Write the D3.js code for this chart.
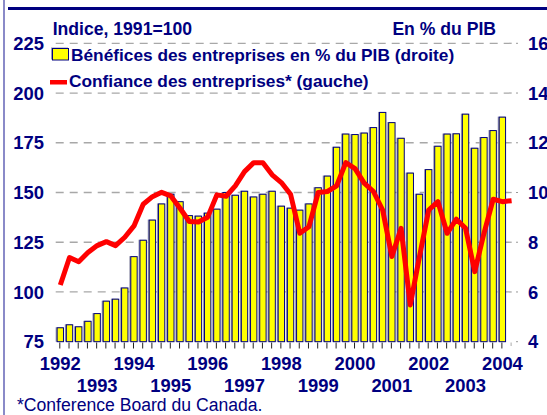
<!DOCTYPE html>
<html>
<head>
<meta charset="utf-8">
<script src="https://cdn.jsdelivr.net/npm/d3@7"></script>
<style>
  html, body { margin: 0; padding: 0; background: #fff; }
  svg { display: block; }
  text { font-family: "Liberation Sans", Arial, sans-serif; fill: #000080; }
</style>
</head>
<body>
<svg id="chart" width="547" height="415"></svg>
<script>
// ---- Data ----
const years = [1992, 1993, 1994, 1995, 1996, 1997, 1998, 1999, 2000, 2001, 2002, 2003, 2004];
const quarters = ["T1", "T2", "T3", "T4"];
// Quarterly categories 1992T1 .. 2004T2
const categories = years.flatMap(y => quarters.map(q => y + q)).slice(0, 50);

// Bénéfices des entreprises en % du PIB (droite), 1992T1 .. 2004T1
const profits = [4.56, 4.68, 4.60, 4.82, 5.13, 5.63, 5.71, 6.16, 7.42, 8.08, 8.89, 9.54, 9.93, 9.63, 9.07, 9.05,
  9.17, 9.33, 10.00, 9.89, 10.05, 9.82, 9.93, 10.05, 9.45, 9.37, 9.29, 9.54, 10.19, 10.66, 11.82, 12.35,
  12.33, 12.39, 12.61, 13.22, 12.81, 12.18, 10.78, 9.93, 10.92, 11.86, 12.35, 12.36, 13.15, 11.78, 12.21, 12.49,
  13.03];

// Confiance des entreprises* (gauche), 1992T1 .. 2004T2
const confidence = [103.5, 117.3, 115.2, 119.8, 123.3, 125.3, 123.3, 127.5, 133.2, 144.1, 147.9, 150.1, 148.3, 142.1,
  135.4, 135.2, 137.6, 148.8, 148.1, 153.3, 160.5, 165.0, 165.0, 158.9, 155.0, 149.1, 129.5, 132.8, 150.0, 150.5,
  153.3, 165.0, 162.0, 154.7, 150.5, 141.2, 117.8, 132.0, 93.5, 117.8, 141.2, 145.4, 129.5, 136.6, 132.0, 110.2,
  129.5, 146.6, 145.4, 145.9];

const leftTicks = [75, 100, 125, 150, 175, 200, 225];
const rightTicks = [4, 6, 8, 10, 12, 14, 16];

const labelLeft = "Indice, 1991=100";
const labelRight = "En % du PIB";
const legendBars = "Bénéfices des entreprises en % du PIB (droite)";
const legendLine = "Confiance des entreprises* (gauche)";
const footnote = "*Conference Board du Canada.";

// ---- Layout ----
const svg = d3.select("#chart");
const navy = "#000080";

const x = d3.scaleBand().domain(categories).range([55.7, 516.2]).paddingInner(0.2).paddingOuter(0.1);
const yL = d3.scaleLinear().domain([75, 225]).range([341.7, 43.3]);
const yR = d3.scaleLinear().domain([4, 16]).range([341.7, 43.3]);
const cx = c => x(c) + x.bandwidth() / 2;

// Frame decorations
svg.append("rect").attr("x", 3).attr("y", 0).attr("width", 2).attr("height", 415).attr("fill", "#8a8ac8");
svg.append("rect").attr("x", 8).attr("y", 7).attr("width", 539).attr("height", 3).attr("fill", navy);

// Gridlines
svg.append("g").selectAll("line").data(leftTicks.slice(1)).join("line")
  .attr("x1", 55.7).attr("x2", 517)
  .attr("y1", d => yL(d)).attr("y2", d => yL(d))
  .attr("stroke", "#a8a8a8").attr("stroke-width", 1.3).attr("stroke-dasharray", "8,6");

// Bars
const bw = x.bandwidth();
const barData = profits.map((v, i) => ({ c: categories[i], v }));
svg.append("g").selectAll("rect").data(barData).join("rect")
  .attr("x", d => x(d.c) - 1).attr("y", d => yR(d.v) - 0.5)
  .attr("width", bw).attr("height", d => yR(4) - yR(d.v) + 0.5)
  .attr("fill", "#9a9ab0");
svg.append("g").selectAll("rect").data(barData).join("rect")
  .attr("x", d => x(d.c) + 0.5).attr("y", d => yR(d.v))
  .attr("width", bw - 1).attr("height", d => yR(4) - yR(d.v))
  .attr("fill", "#ffff00").attr("stroke", navy).attr("stroke-width", 1);

// Bottom ticks
svg.append("g").selectAll("line").data(categories).join("line")
  .attr("x1", d => cx(d) - 0.5).attr("x2", d => cx(d) - 0.5)
  .attr("y1", 342.5).attr("y2", (d, i) => i === categories.length - 1 ? 346 : 348.5)
  .attr("stroke", (d, i) => i === categories.length - 1 ? "#aaa" : "#222").attr("stroke-width", 1);

// Right tiny ticks
svg.append("g").selectAll("line").data(rightTicks).join("line")
  .attr("x1", 516).attr("x2", 518)
  .attr("y1", d => yR(d)).attr("y2", d => yR(d))
  .attr("stroke", "#999").attr("stroke-width", 1);

// Line
const line = d3.line().x((d, i) => cx(categories[i])).y(d => yL(d));
svg.append("path").datum(confidence)
  .attr("d", line).attr("fill", "none")
  .attr("stroke", "#ff0000").attr("stroke-width", 5)
  .attr("stroke-linejoin", "round").attr("stroke-linecap", "butt");

// Axis labels
const axisFont = "18.4px";
svg.append("g").selectAll("text").data(leftTicks).join("text")
  .attr("x", 44).attr("y", d => yL(d)).attr("dy", "0.36em")
  .attr("text-anchor", "end").attr("font-weight", "bold").attr("font-size", axisFont)
  .text(d => d);
svg.append("g").selectAll("text").data(rightTicks).join("text")
  .attr("x", 528).attr("y", d => yR(d)).attr("dy", "0.36em")
  .attr("text-anchor", "start").attr("font-weight", "bold").attr("font-size", axisFont)
  .text(d => d);

svg.append("g").selectAll("text").data(years).join("text")
  .attr("x", y => cx(y + "T1"))
  .attr("y", (y, i) => i % 2 === 0 ? 370 : 391.7)
  .attr("text-anchor", "middle").attr("font-weight", "bold").attr("font-size", axisFont)
  .text(y => y);

// Headers
const hFont = "17.6px";
svg.append("text").attr("x", 52.7).attr("y", 35).attr("font-weight", "bold").attr("font-size", hFont).text(labelLeft);
svg.append("text").attr("x", 496).attr("y", 35).attr("text-anchor", "end").attr("font-weight", "bold").attr("font-size", hFont).text(labelRight);

// Legend
svg.append("rect").attr("x", 51).attr("y", 47.5).attr("width", 17).attr("height", 12)
  .attr("fill", "#9a9ab0");
svg.append("rect").attr("x", 52.5).attr("y", 48.5).attr("width", 16).attr("height", 11.5)
  .attr("fill", "#ffff00").attr("stroke", navy).attr("stroke-width", 1);
svg.append("text").attr("x", 71).attr("y", 61).attr("font-weight", "bold").attr("font-size", "17.3px").text(legendBars);
svg.append("rect").attr("x", 50).attr("y", 80).attr("width", 17).attr("height", 4.5).attr("fill", "#ff0000");
svg.append("text").attr("x", 69).attr("y", 87).attr("font-weight", "bold").attr("font-size", "17.3px").text(legendLine);

// Footnote
svg.append("text").attr("x", 17).attr("y", 411).attr("font-size", "17.6px").text(footnote);
</script>
</body>
</html>
